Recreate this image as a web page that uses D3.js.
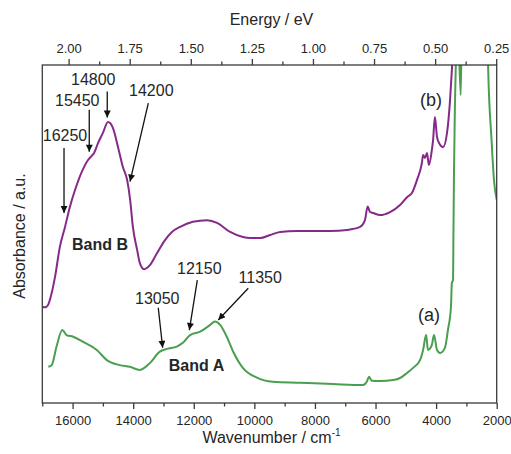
<!DOCTYPE html>
<html>
<head>
<meta charset="utf-8">
<script src="https://cdn.jsdelivr.net/npm/d3@7"></script>
<style>
  html, body { margin: 0; padding: 0; background: #fff; }
  svg { display: block; font-family: "Liberation Sans", Arial, sans-serif; }
</style>
</head>
<body>
<svg id="chart" width="511" height="454"></svg>
<script>
// Spectrum (b): wavenumber (cm-1) and absorbance (a.u.)
const wavenumberB = [16990, 16910, 16810, 16750, 16580, 16420, 16250, 16090, 15920, 15700,
  15490, 15370, 15290, 15160, 15000, 14830, 14670, 14500, 14340, 14200,
  14100, 14010, 13870, 13780, 13640, 13450, 13210, 12950, 12720, 12450,
  12030, 11560, 11230, 10800, 10380, 10140, 9810, 9480, 9150, 8590,
  8060, 7500, 6940, 6510, 6350, 6260, 6180, 6080, 5850, 5520,
  5190, 4960, 4800, 4630, 4470, 4430, 4370, 4300, 4240, 4140,
  4100, 4040, 3970, 3900, 3770, 3640, 3540, 3480, 3410, 3280,
  3000, 2000];
const absorbanceB = [0.284, 0.283, 0.290, 0.305, 0.373, 0.462, 0.521, 0.580, 0.630, 0.683,
  0.719, 0.731, 0.740, 0.769, 0.799, 0.831, 0.814, 0.757, 0.698, 0.660,
  0.601, 0.521, 0.453, 0.414, 0.396, 0.408, 0.444, 0.482, 0.506, 0.521,
  0.536, 0.541, 0.533, 0.506, 0.491, 0.488, 0.488, 0.497, 0.506, 0.509,
  0.509, 0.509, 0.512, 0.521, 0.541, 0.581, 0.565, 0.562, 0.556, 0.565,
  0.586, 0.609, 0.621, 0.660, 0.710, 0.734, 0.725, 0.740, 0.704, 0.749,
  0.778, 0.846, 0.787, 0.769, 0.757, 0.799, 0.896, 0.985, 1.074, 1.163,
  1.400, 1.400];

// Spectrum (a)
const wavenumberA = [16800, 16690, 16530, 16340, 16200, 15980, 15650, 15200, 14870, 14440,
  14110, 13780, 13450, 13120, 12890, 12560, 12360, 12120, 11790, 11460,
  11300, 11130, 10910, 10710, 10380, 9920, 9390, 8490, 7400, 6410,
  6290, 6210, 6130, 5850, 5420, 5190, 4960, 4760, 4530, 4430,
  4330, 4270, 4140, 4070, 3970, 3870, 3710, 3610, 3510, 3480,
  3440, 3430, 3410, 3380, 3330, 3290, 3250, 3190, 3160, 3110,
  2350, 2280, 2170, 2090, 2000];
const absorbanceA = [0.107, 0.112, 0.167, 0.216, 0.201, 0.196, 0.181, 0.157, 0.127, 0.112,
  0.107, 0.098, 0.118, 0.152, 0.160, 0.167, 0.178, 0.201, 0.211, 0.231,
  0.241, 0.231, 0.196, 0.154, 0.104, 0.075, 0.063, 0.060, 0.056, 0.053,
  0.063, 0.078, 0.066, 0.065, 0.068, 0.074, 0.089, 0.104, 0.127, 0.157,
  0.201, 0.157, 0.172, 0.201, 0.157, 0.148, 0.163, 0.216, 0.284, 0.355,
  0.364, 0.482, 0.680, 0.876, 1.074, 1.251, 1.074, 0.911, 1.074, 1.311,
  1.311, 0.985, 0.778, 0.660, 0.601];

// Axis ticks
const wavenumberTicks = [16000, 14000, 12000, 10000, 8000, 6000, 4000, 2000];
const wavenumberMinorTicks = [17000, 15000, 13000, 11000, 9000, 7000, 5000, 3000];
const energyTicks = [2.00, 1.75, 1.50, 1.25, 1.00, 0.75, 0.50, 0.25];
const energyMinorTicks = [1.875, 1.625, 1.375, 1.125, 0.875, 0.625, 0.375];

// Marked band positions (cm-1)
const peaksB = [16250, 15450, 14800, 14200];
const peaksA = [13050, 12150, 11350];

const CM_PER_EV = 8065.54;

const svg = d3.select("#chart");
const plot = { left: 42.3, right: 496.7, top: 65, bottom: 403 };

const x = d3.scaleLinear().domain([17000, 2000]).range([plot.left, plot.right]);
const xe = d3.scaleLinear().domain([17000 / CM_PER_EV, 2000 / CM_PER_EV]).range([plot.left, plot.right]);
const y = d3.scaleLinear().domain([0, 1]).range([plot.bottom, plot.top]);

const axisColor = "#3a3a3a";
const textColor = "#262626";
const purple = "#862a88";
const green = "#4a9e50";

svg.append("defs").append("clipPath").attr("id", "plotClip")
  .append("rect")
  .attr("x", plot.left).attr("y", plot.top)
  .attr("width", plot.right - plot.left).attr("height", plot.bottom - plot.top);

const defs = svg.select("defs");
defs.append("marker")
  .attr("id", "arrowHead")
  .attr("viewBox", "0 0 10 10")
  .attr("refX", 10).attr("refY", 5)
  .attr("markerUnits", "userSpaceOnUse")
  .attr("markerWidth", 9).attr("markerHeight", 7)
  .attr("orient", "auto")
  .append("path").attr("d", "M0,0 L10,5 L0,10 Z").attr("fill", "#111");

// Spectra
const line = d3.line().x(d => x(d[0])).y(d => y(d[1])).curve(d3.curveMonotoneX);
const seriesB = wavenumberB.map((w, i) => [w, absorbanceB[i]]);
const seriesA = wavenumberA.map((w, i) => [w, absorbanceA[i]]);

const curves = svg.append("g").attr("clip-path", "url(#plotClip)");
curves.append("path").datum(seriesB).attr("d", line)
  .attr("fill", "none").attr("stroke", purple).attr("stroke-width", 2).attr("stroke-linejoin", "round");
curves.append("path").datum(seriesA).attr("d", line)
  .attr("fill", "none").attr("stroke", green).attr("stroke-width", 2).attr("stroke-linejoin", "round");

// Frame
svg.append("rect")
  .attr("x", plot.left).attr("y", plot.top)
  .attr("width", plot.right - plot.left).attr("height", plot.bottom - plot.top)
  .attr("fill", "none").attr("stroke", axisColor).attr("stroke-width", 1.3);

function styleAxis(g) {
  g.select(".domain").remove();
  g.selectAll("line").attr("stroke", axisColor).attr("stroke-width", 1.3);
  g.selectAll("text").attr("fill", textColor).attr("font-size", 13)
    .attr("font-family", "'Liberation Sans', Arial, sans-serif");
}

// Bottom axis: wavenumber
svg.append("g").attr("transform", `translate(0,${plot.bottom})`)
  .call(d3.axisBottom(x).tickValues(wavenumberTicks).tickFormat(d3.format("d"))
    .tickSize(6).tickSizeOuter(0).tickPadding(7))
  .call(styleAxis);
svg.append("g").attr("transform", `translate(0,${plot.bottom})`)
  .call(d3.axisBottom(x).tickValues(wavenumberMinorTicks).tickFormat("")
    .tickSize(3.5).tickSizeOuter(0))
  .call(styleAxis);

// Top axis: photon energy
svg.append("g").attr("transform", `translate(0,${plot.top})`)
  .call(d3.axisTop(xe).tickValues(energyTicks).tickFormat(d3.format(".2f"))
    .tickSize(6).tickSizeOuter(0).tickPadding(6))
  .call(styleAxis);
svg.append("g").attr("transform", `translate(0,${plot.top})`)
  .call(d3.axisTop(xe).tickValues(energyMinorTicks).tickFormat("")
    .tickSize(3.5).tickSizeOuter(0))
  .call(styleAxis);

// Axis titles
const midX = (plot.left + plot.right) / 2;
const xTitle = svg.append("text")
  .attr("x", midX + 2).attr("y", 443)
  .attr("text-anchor", "middle").attr("font-size", 16).attr("fill", textColor);
xTitle.append("tspan").text("Wavenumber / cm");
xTitle.append("tspan").attr("font-size", 10).attr("dy", -7).text("-1");

svg.append("text")
  .attr("x", midX + 2).attr("y", 25)
  .attr("text-anchor", "middle").attr("font-size", 16).attr("fill", textColor)
  .text("Energy / eV");

svg.append("text")
  .attr("transform", `translate(25,${(plot.top + plot.bottom) / 2 + 2}) rotate(-90)`)
  .attr("text-anchor", "middle").attr("font-size", 16).attr("fill", textColor)
  .text("Absorbance / a.u.");

// Value of a spectrum at a given wavenumber (linear interpolation)
function valueAt(series, w) {
  for (let i = 0; i < series.length - 1; i++) {
    const a = series[i], b = series[i + 1];
    if ((w <= a[0] && w >= b[0])) {
      const t = (a[0] - w) / (a[0] - b[0]);
      return a[1] + t * (b[1] - a[1]);
    }
  }
  return series[series.length - 1][1];
}

// Arrow layout: tip offset from the curve point, tail offset from the tip,
// label offset (text centre / baseline) from the tail.
const arrowLayoutB = [
  { tip: [-1, -14], tail: [0, -65], label: [1, -7] },
  { tip: [0, -7], tail: [0, -42], label: [-12, -4] },
  { tip: [-1.7, -5.7], tail: [0, -26], label: [-14, -6] },
  { tip: [2.9, 1.7], tail: [18.3, -78.4], label: [3, -7] }
];
const arrowLayoutA = [
  { tip: [0.7, -3], tail: [-4.4, -40], label: [-1, -4] },
  { tip: [0.1, -6], tail: [8, -50], label: [2, -6] },
  { tip: [4.8, -2.6], tail: [30, -31.7], label: [12, -5] }
];

function drawArrows(peaks, series, layout) {
  const g = svg.append("g");
  peaks.forEach((w, i) => {
    const L = layout[i];
    const tx = x(w) + L.tip[0];
    const ty = y(valueAt(series, w)) + L.tip[1];
    const sx = tx + L.tail[0];
    const sy = ty + L.tail[1];
    g.append("line")
      .attr("x1", sx).attr("y1", sy).attr("x2", tx).attr("y2", ty)
      .attr("stroke", "#111").attr("stroke-width", 1.3)
      .attr("marker-end", "url(#arrowHead)");
    g.append("text")
      .attr("x", sx + L.label[0]).attr("y", sy + L.label[1])
      .attr("text-anchor", "middle").attr("font-size", 16).attr("fill", textColor)
      .text(w);
  });
}
drawArrows(peaksB, seriesB, arrowLayoutB);
drawArrows(peaksA, seriesA, arrowLayoutA);

// Band and spectrum labels
svg.append("text").attr("x", 100).attr("y", 250).attr("text-anchor", "middle")
  .attr("font-size", 16).attr("font-weight", "bold").attr("fill", textColor).text("Band B");
svg.append("text").attr("x", 196.5).attr("y", 371).attr("text-anchor", "middle")
  .attr("font-size", 16).attr("font-weight", "bold").attr("fill", textColor).text("Band A");
svg.append("text").attr("x", 431).attr("y", 106).attr("text-anchor", "middle")
  .attr("font-size", 18).attr("fill", textColor).text("(b)");
svg.append("text").attr("x", 429).attr("y", 321).attr("text-anchor", "middle")
  .attr("font-size", 18).attr("fill", textColor).text("(a)");
</script>
</body>
</html>
